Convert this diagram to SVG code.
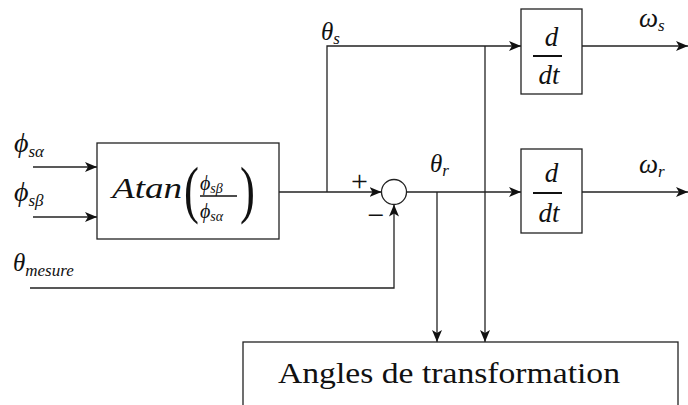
<svg xmlns="http://www.w3.org/2000/svg" width="688" height="405" viewBox="0 0 688 405">
<defs>
<marker id="arr" viewBox="0 0 12 10" refX="12" refY="5" markerWidth="12" markerHeight="10" markerUnits="userSpaceOnUse" orient="auto">
<path d="M0,0 L12,5 L0,10 L3,5 Z" fill="#111"/>
</marker>
</defs>
<style>
.ln{fill:none;stroke:#222;stroke-width:1.3}
.bx{fill:#fff;stroke:#222;stroke-width:1.3}
text{font-family:'Liberation Serif','Times New Roman','DejaVu Serif',serif;fill:#111}
.m{font-style:italic;font-size:25px}
.sub{font-size:17px}
</style>
<rect width="688" height="405" fill="#fff"/>
<g id="connectors">
<line class="ln" x1="33" y1="167" x2="97" y2="167" marker-end="url(#arr)"/>
<line class="ln" x1="33" y1="217" x2="97" y2="217" marker-end="url(#arr)"/>
<line class="ln" x1="279" y1="192" x2="381.5" y2="192" marker-end="url(#arr)"/>
<polyline class="ln" points="327,192 327,46 521,46" marker-end="url(#arr)"/>
<line class="ln" x1="406.5" y1="192" x2="521" y2="192" marker-end="url(#arr)"/>
<polyline class="ln" points="30,288 394,288 394,204.5" marker-end="url(#arr)"/>
<line class="ln" x1="437" y1="192" x2="437" y2="342" marker-end="url(#arr)"/>
<line class="ln" x1="485" y1="46" x2="485" y2="342" marker-end="url(#arr)"/>
<line class="ln" x1="582" y1="46" x2="688" y2="46" marker-end="url(#arr)"/>
<line class="ln" x1="582" y1="192" x2="688" y2="192" marker-end="url(#arr)"/>
</g>
<g id="labels">
<text class="m" x="14" y="152" style="font-size:28px">ϕ<tspan class="sub" dy="5">sα</tspan></text>
<text class="m" x="14" y="201" style="font-size:28px">ϕ<tspan class="sub" dy="5">sβ</tspan></text>
<text class="m" x="13" y="271">θ<tspan class="sub" dy="5">mesure</tspan></text>
<text class="m" x="321" y="40">θ<tspan class="sub" dy="4">s</tspan></text>
<text class="m" x="430" y="172">θ<tspan class="sub" dy="4">r</tspan></text>
<text class="m" x="639" y="27" style="font-size:27px">ω<tspan class="sub" dy="4">s</tspan></text>
<text class="m" x="639" y="173" style="font-size:27px">ω<tspan class="sub" dy="4">r</tspan></text>
<text x="359.5" y="191" font-size="30" text-anchor="middle">+</text>
<text x="376" y="225" font-size="30" text-anchor="middle">−</text>
</g>
<g id="atan">
<rect class="bx" x="97" y="143" width="182" height="96"/>
<text class="m" x="112" y="198" style="font-size:29px" textLength="70" lengthAdjust="spacingAndGlyphs">Atan</text>
<text x="0" y="0" font-size="64" transform="translate(184,211) scale(0.7,1)">(</text>
<text x="0" y="0" font-size="64" transform="translate(240,211) scale(0.7,1)">)</text>
<text class="m" x="200" y="190" style="font-size:20px">ϕ<tspan style="font-size:14px" dy="3">sβ</tspan></text>
<line x1="200" y1="196" x2="237" y2="196" stroke="#111" stroke-width="1.6"/>
<text class="m" x="200" y="218" style="font-size:20px">ϕ<tspan style="font-size:14px" dy="3">sα</tspan></text>
</g>
<g id="sum">
<circle cx="394" cy="192" r="12.5" class="bx"/>
</g>
<g id="ddt_s">
<rect class="bx" x="521" y="9" width="61" height="85"/>
<text class="m" x="551.5" y="46" style="font-size:27px" text-anchor="middle">d</text>
<line x1="533" y1="56" x2="562" y2="56" stroke="#111" stroke-width="2"/>
<text class="m" x="549" y="84" style="font-size:27px" text-anchor="middle">dt</text>
</g>
<g id="ddt_r">
<rect class="bx" x="521" y="149" width="61" height="84"/>
<text class="m" x="551.5" y="182" style="font-size:27px" text-anchor="middle">d</text>
<line x1="533" y1="193" x2="562" y2="193" stroke="#111" stroke-width="2"/>
<text class="m" x="549" y="222" style="font-size:27px" text-anchor="middle">dt</text>
</g>
<g id="angles">
<rect class="bx" x="243" y="342" width="435" height="80"/>
<text x="278" y="383" font-size="29" textLength="342" lengthAdjust="spacingAndGlyphs">Angles de transformation</text>
</g>
</svg>
